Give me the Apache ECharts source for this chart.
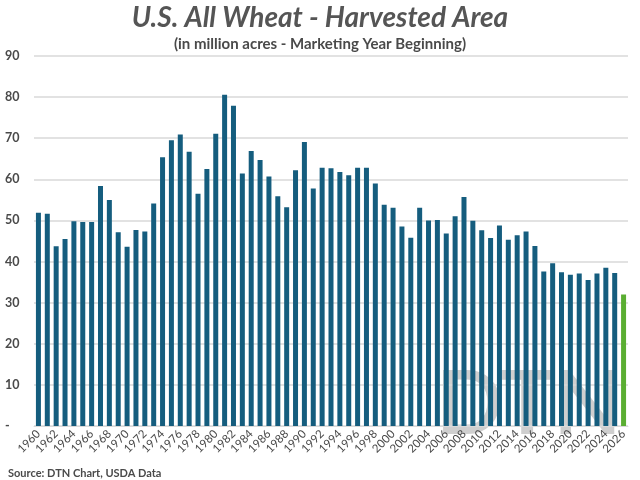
<!DOCTYPE html>
<html>
<head>
<meta charset="utf-8">
<script src="https://cdn.jsdelivr.net/npm/echarts@6/dist/echarts.min.js"></script>
<style>
    html, body { margin: 0; padding: 0; background: #fff; }
    #chart { width: 640px; height: 480px; }
</style>
</head>
<body>
<div id="chart"></div>
<script>
    // harvested area, million acres, 1960 - 2026
    var years = [];
    for (var y = 1960; y <= 2026; y++) years.push(String(y));

    var harvestedArea = [
        51.9, 51.6, 43.7, 45.5, 49.8, 49.6, 49.6, 58.4, 55.0, 47.1,
        43.6, 47.7, 47.3, 54.1, 65.4, 69.5, 70.9, 66.7, 56.5, 62.5,
        71.1, 80.6, 77.9, 61.4, 66.9, 64.7, 60.7, 55.9, 53.2, 62.2,
        69.1, 57.8, 62.8, 62.7, 61.8, 61.0, 62.8, 62.8, 59.0, 53.8,
        53.1, 48.5, 45.8, 53.1, 50.0, 50.1, 46.8, 51.0, 55.7, 49.9,
        47.6, 45.7, 48.8, 45.3, 46.4, 47.3, 43.8, 37.6, 39.6, 37.4,
        36.8, 37.1, 35.5, 37.1, 38.5, 37.2, 32.0
    ];

    var histColor = '#155d7e';
    var projColor = '#5aae32';
    var textColor = '#4a4a4a';

    var chart = echarts.init(document.getElementById('chart'));
    chart.setOption({
        animation: false,
        title: [
            {
                text: 'U.S. All Wheat - Harvested Area',
                left: 'center',
                top: -1,
                textStyle: { fontFamily: 'Lato', fontSize: 28, fontWeight: 'bold', fontStyle: 'italic', color: '#555' }
            },
            {
                text: '(in million acres - Marketing Year Beginning)',
                left: 'center',
                top: 32,
                textStyle: { fontFamily: 'Lato', fontSize: 15, fontWeight: 'bold', color: textColor }
            },
            {
                text: 'Source: DTN Chart, USDA Data',
                left: 3,
                top: 463,
                textStyle: { fontFamily: 'Lato', fontSize: 11, fontWeight: 'bold', color: textColor }
            }
        ],
        graphic: [
            {
                type: 'text',
                left: 436,
                top: 362,
                z: 0,
                style: { text: 'DTN', fontFamily: 'Lato', fontSize: 88, fontWeight: 'bold', fill: '#cfcfcf' }
            }
        ],
        grid: { left: 34, right: 12, top: 56, bottom: 54 },
        xAxis: {
            type: 'category',
            data: years,
            axisLine: { show: true, lineStyle: { color: '#d9d9d9', width: 1 } },
            axisTick: { show: false },
            axisLabel: {
                interval: 1,
                rotate: 45,
                margin: 6,
                fontFamily: 'Lato',
                fontSize: 11.5,
                color: textColor
            }
        },
        yAxis: {
            type: 'value',
            min: 0,
            max: 90,
            interval: 10,
            axisLine: { show: false },
            axisTick: { show: false },
            splitLine: { lineStyle: { color: '#d9d9d9', width: 1.5 } },
            axisLabel: {
                align: 'left',
                margin: 29,
                fontFamily: 'Lato',
                fontSize: 12.5,
                fontWeight: 'bold',
                color: textColor,
                formatter: function (v) { return v === 0 ? '-' : v; }
            }
        },
        series: [{
            type: 'bar',
            barWidth: 5,
            z: 2,
            data: harvestedArea.map(function (v, i) {
                return {
                    value: v,
                    itemStyle: { color: i === harvestedArea.length - 1 ? projColor : histColor }
                };
            })
        }]
    });
</script>
</body>
</html>
